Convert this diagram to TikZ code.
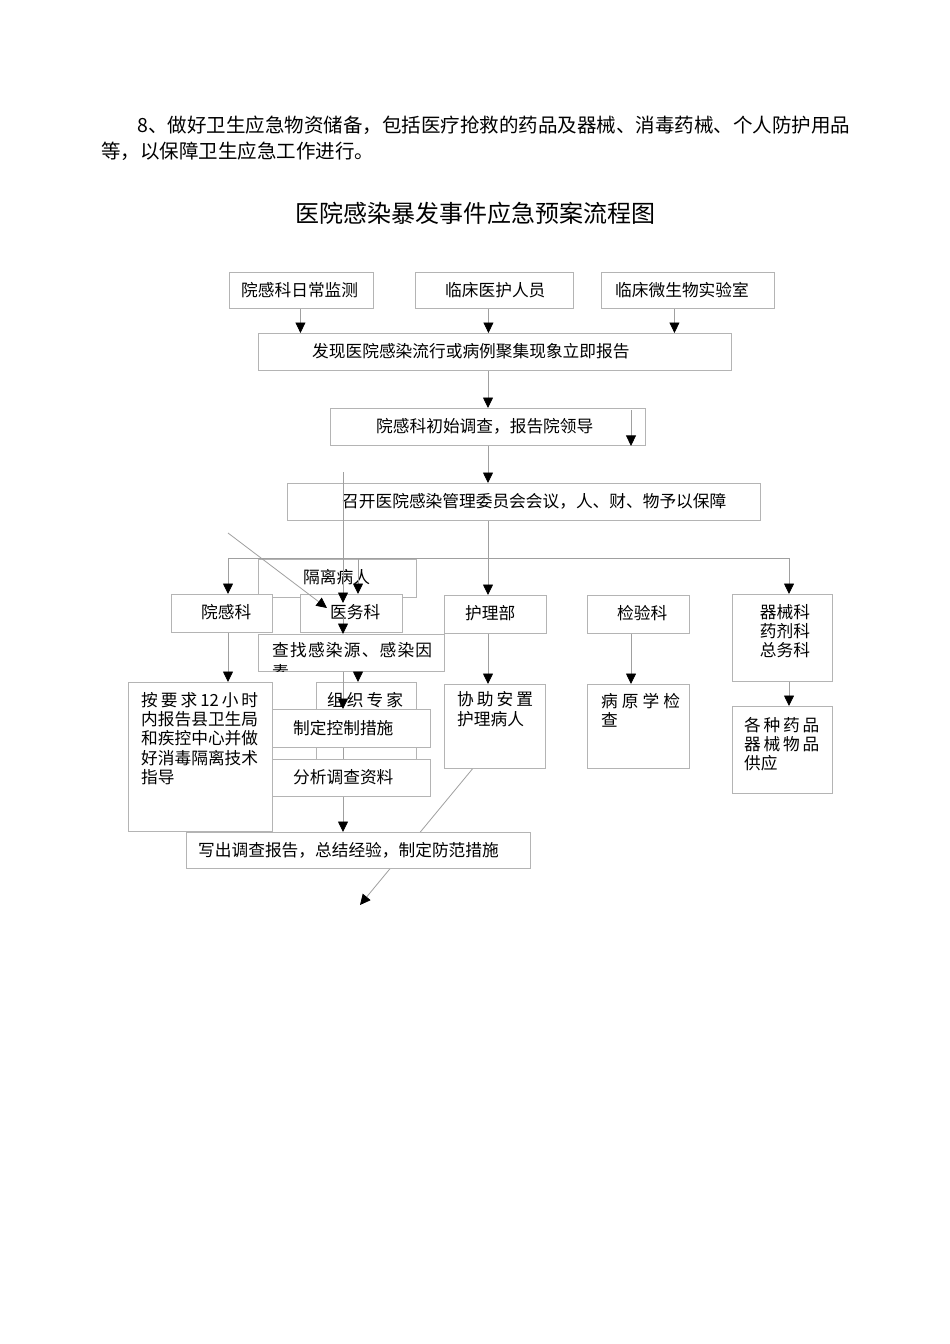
\documentclass[tikz,border=0pt]{standalone}
\usepackage{fontspec}
\setmainfont{Noto Sans CJK SC}
\usetikzlibrary{arrows.meta}
\definecolor{boxline}{RGB}{180, 180, 180}
\definecolor{linkline}{RGB}{160, 160, 160}
\newcommand{\fs}{\fontsize{16.7}{19.3}\selectfont}

\begin{document}
\begin{tikzpicture}[x=1pt, y=-1pt,
  box/.style={draw=boxline, line width=0.9pt, fill=white, inner sep=0pt, anchor=north west},
  txt/.style={inner sep=0pt, font=\fs, anchor=west},
  link/.style={draw=linkline, line width=0.8pt},
  arr/.style={link, -{Triangle[length=10.5pt, width=10pt, color=black]}}]

  \useasboundingbox[fill=white] (0, 0) rectangle (950, 1344);

  % text above the chart
  \node[txt, font=\fontsize{19.5}{26}\selectfont] (para1) at (137, 125)
    {8、做好卫生应急物资储备，包括医疗抢救的药品及器械、消毒药械、个人防护用品};
  \node[txt, font=\fontsize{19.5}{26}\selectfont] (para2) at (101, 151)
    {等，以保障卫生应急工作进行。};
  \node[inner sep=0pt, font=\fontsize{24}{28}\selectfont] (title) at (475, 213)
    {医院感染暴发事件应急预案流程图};

  % boxes
  \node[box, minimum width=144pt, minimum height=36pt] (jc) at (229, 272) {};
  \node[txt] (jc-t) at (241, 290) {院感科日常监测};
  \node[box, minimum width=158pt, minimum height=36pt] (yh) at (415, 272) {};
  \node[txt] (yh-t) at (445, 290) {临床医护人员};
  \node[box, minimum width=173pt, minimum height=36pt] (sys) at (601, 272) {};
  \node[txt] (sys-t) at (615, 290) {临床微生物实验室};

  \node[box, minimum width=473pt, minimum height=37pt] (fx) at (258, 333) {};
  \node[txt] (fx-t) at (312, 351.5) {发现医院感染流行或病例聚集现象立即报告};
  \node[box, minimum width=315pt, minimum height=37pt] (dc) at (330, 408) {};
  \node[txt] (dc-t) at (376, 426) {院感科初始调查，报告院领导};
  \node[box, minimum width=473pt, minimum height=37pt] (hy) at (287, 483) {};
  \node[txt] (hy-t) at (342, 501) {召开医院感染管理委员会会议，人、财、物予以保障};

  \node[box, minimum width=158pt, minimum height=38pt] (gl) at (258, 559) {};
  \node[txt] (gl-t) at (303, 577) {隔离病人};
  \node[box, minimum width=101pt, minimum height=38pt] (ygk) at (171, 594) {};
  \node[txt] (ygk-t) at (201, 612) {院感科};
  \node[box, minimum width=102pt, minimum height=38pt] (ywk) at (300, 594) {};
  \node[txt] (ywk-t) at (330, 612) {医务科};
  \node[box, minimum width=102pt, minimum height=38pt] (hlb) at (444, 595) {};
  \node[txt] (hlb-t) at (465, 613) {护理部};
  \node[box, minimum width=102pt, minimum height=38pt] (jyk) at (587, 595) {};
  \node[txt] (jyk-t) at (617, 613) {检验科};
  \node[box, minimum width=100pt, minimum height=87pt] (qxk) at (732, 594) {};
  \node[txt, anchor=center, align=center] (qxk-t) at (785, 631) {器械科\\药剂科\\总务科};

  \node[box, minimum width=186pt, minimum height=37pt] (cz) at (258, 634) {};
  \begin{scope}
    \clip (258, 634) rectangle (444, 671);
    \node[txt, align=left, font=\fontsize{16.7}{22}\selectfont] (cz-t) at (272, 661)
      {\makebox[160pt]{查\hfill 找\hfill 感\hfill 染\hfill 源\hfill 、\hfill 感\hfill 染\hfill 因}\\素};
  \end{scope}

  \node[box, minimum width=100pt, minimum height=77pt] (zz) at (316, 682) {};
  \node[txt] (zz-t) at (327, 700) {\makebox[76pt]{组\hfill 织\hfill 专\hfill 家}};
  \node[box, minimum width=144pt, minimum height=149pt] (bg) at (128, 682) {};
  \node[txt, align=left] (bg-t) at (141, 738.5)
    {\makebox[117pt]{按\hfill 要\hfill 求\hfill 12\hfill 小\hfill 时}\\内报告县卫生局\\和疾控中心并做\\好消毒隔离技术\\指导};
  \node[box, minimum width=101pt, minimum height=84pt] (xz) at (444, 684) {};
  \node[txt, align=left] (xz-t) at (457, 709) {\makebox[76pt]{协\hfill 助\hfill 安\hfill 置}\\护理病人};
  \node[box, minimum width=102pt, minimum height=84pt] (by) at (587, 684) {};
  \node[txt, align=left] (by-t) at (601, 710) {\makebox[79pt]{病\hfill 原\hfill 学\hfill 检}\\查};
  \node[box, minimum width=100pt, minimum height=87pt] (gy) at (732, 706) {};
  \node[txt, align=left] (gy-t) at (744, 744)
    {\makebox[75pt]{各\hfill 种\hfill 药\hfill 品}\\\makebox[75pt]{器\hfill 械\hfill 物\hfill 品}\\供应};

  % stray arrow under the report box
  \coordinate (lend) at (360, 905);
  \draw[arr] ([xshift=-22.5pt]xz.south) -- (lend);

  \node[box, minimum width=158pt, minimum height=38pt] (zd) at (272, 709) {};
  \node[txt] (zd-t) at (293, 728) {制定控制措施};
  \node[box, minimum width=158pt, minimum height=37pt] (fx2) at (272, 759) {};
  \node[txt] (fx2-t) at (293, 777.5) {分析调查资料};
  \node[box, minimum width=344pt, minimum height=36pt] (xc) at (186, 832) {};
  \node[txt] (xc-t) at (198, 850) {写出调查报告，总结经验，制定防范措施};

  % connectors
  \coordinate (dcin) at (631, 410);
  \coordinate (br) at (488, 558);
  \coordinate (brL) at (228, 558);
  \coordinate (brM) at (358, 558);
  \coordinate (brR) at (789, 558);
  \coordinate (vtop) at (343, 472);
  \coordinate (vend) at (343, 603);
  \coordinate (vmid) at (343, 618);
  \coordinate (dstart) at (228, 533);
  \coordinate (dend) at (327, 608);

  \draw[arr] ([xshift=-1pt]jc.south) -- ([xshift=-1pt]jc.south |- fx.north);
  \draw[arr] ([xshift=-6pt]yh.south) -- ([xshift=-6pt]yh.south |- fx.north);
  \draw[arr] ([xshift=-13.5pt]sys.south) -- ([xshift=-13.5pt]sys.south |- fx.north);
  \draw[arr] (br |- fx.south) -- (br |- dc.north);
  \draw[arr] (dcin) -- (dcin |- dc.south);
  \draw[arr] (br |- dc.south) -- (br |- hy.north);
  \draw[link] (br |- hy.south) -- (br);
  \draw[link] (brL) -- (brR);
  \draw[arr] (brL) -- (brL |- ygk.north);
  \draw[arr] (brM) -- (brM |- ywk.north);
  \draw[arr] (br) -- (br |- hlb.north);
  \draw[arr] (brR) -- (brR |- qxk.north);
  \draw[arr] (vtop) -- (vend);
  \draw[arr] (dstart) -- (dend);
  \draw[arr] (vmid) -- (vmid |- cz.north);
  \draw[arr] (brM |- cz.south) -- (brM |- zz.north);
  \draw[arr] (vtop |- cz.south) -- (vtop |- zd.north);
  \draw[link] (vtop |- zd.south) -- (vtop |- fx2.north);
  \draw[arr] (vtop |- fx2.south) -- (vtop |- xc.north);
  \draw[arr] (brL |- ygk.south) -- (brL |- bg.north);
  \draw[arr] (br |- hlb.south) -- (br |- xz.north);
  \draw[arr] (dcin |- jyk.south) -- (dcin |- by.north);
  \draw[arr] (brR |- qxk.south) -- (brR |- gy.north);

\end{tikzpicture}
\end{document}
